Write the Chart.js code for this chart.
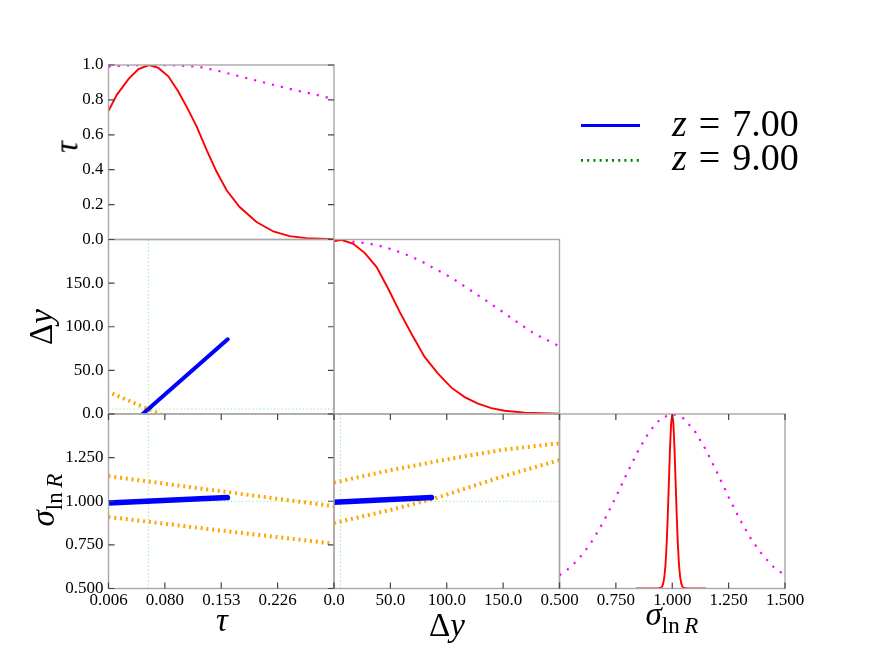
<!DOCTYPE html>
<html><head><meta charset="utf-8">
<script src="https://cdn.jsdelivr.net/npm/chart.js@4.4.1/dist/chart.umd.min.js"></script>
<style>
html,body{margin:0;padding:0;background:#fff;}
#wrap{position:relative;width:872px;height:654px;overflow:hidden;font-family:'Liberation Serif',serif;}
canvas{position:absolute;left:0;top:0;}
.lbl{position:absolute;white-space:nowrap;color:#000;line-height:1;font-size:33px;}
.rot{transform:translate(-50%,-50%) rotate(-90deg);}
.hc{transform:translateX(-50%);}
.leg{position:absolute;white-space:nowrap;color:#000;line-height:1;font-size:38px;}
</style></head><body><div id="wrap">
<canvas id="cA" width="872" height="654"></canvas>
<canvas id="cB" width="872" height="654"></canvas>
<canvas id="cC" width="872" height="654"></canvas>
<canvas id="cD" width="872" height="654"></canvas>
<canvas id="cE" width="872" height="654"></canvas>
<canvas id="cF" width="872" height="654"></canvas>

<div class="lbl rot" style="left:67px;top:147px;"><i>τ</i></div>
<div class="lbl rot" style="left:41px;top:327px;">Δ<i>y</i></div>
<div class="lbl rot" style="left:43px;top:500px;"><i>σ</i><span style="font-size:23px;position:relative;top:8px;">ln&#8201;<i>R</i></span></div>
<div class="lbl hc" style="left:222px;top:604px;"><i>τ</i></div>
<div class="lbl hc" style="left:447px;top:609px;">Δ<i>y</i></div>
<div class="lbl hc" style="left:672px;top:598px;"><i>σ</i><span style="font-size:23px;position:relative;top:8px;">ln&#8201;<i>R</i></span></div>

<svg style="position:absolute;left:0;top:0;" width="872" height="654">
  <line x1="581" y1="125.5" x2="640" y2="125.5" stroke="#0000ff" stroke-width="3.2"/>
  <line x1="581" y1="160.3" x2="640" y2="160.3" stroke="#008000" stroke-width="2.7" stroke-dasharray="2 4.2"/>
</svg>
<div class="leg" style="left:672px;top:104px;"><i>z</i><span style="margin:0 12px;">=</span>7.00</div>
<div class="leg" style="left:672px;top:138px;"><i>z</i><span style="margin:0 12px;">=</span>9.00</div>
</div>
<script>
// ---------- tick values and labels ----------
const tauTicks = [0.006, 0.0795, 0.153, 0.2265, 0.300];
const tauTickLabels = ['0.006', '0.080', '0.153', '0.226', ''];
const dyTicks = [0, 50, 100, 150, 200];
const dyTickLabels = ['0.0', '50.0', '100.0', '150.0', ''];
const sigTicks = [0.5, 0.75, 1.0, 1.25, 1.5];
const sigXTickLabels = ['0.500', '0.750', '1.000', '1.250', '1.500'];
const sigYTickLabels = ['0.500', '0.750', '1.000', '1.250', ''];
const pdfTicks = [0, 0.2, 0.4, 0.6, 0.8, 1.0];
const pdfTickLabels = ['0.0', '0.2', '0.4', '0.6', '0.8', '1.0'];

// ---------- 1D marginals ----------
const tauRedX = [0.006, 0.0168, 0.032, 0.045, 0.0589, 0.071, 0.084, 0.097, 0.110, 0.121, 0.134, 0.147, 0.160, 0.177, 0.199, 0.221, 0.242, 0.264, 0.300];
const tauRedY = [0.737, 0.829, 0.919, 0.977, 1.000, 0.983, 0.935, 0.848, 0.743, 0.647, 0.512, 0.388, 0.282, 0.186, 0.100, 0.046, 0.019, 0.008, 0.002];
const tauMagX = [0.006, 0.030, 0.060, 0.090, 0.125, 0.151, 0.177, 0.212, 0.247, 0.281, 0.300];
const tauMagY = [0.991, 0.997, 1.000, 0.999, 0.989, 0.964, 0.935, 0.896, 0.858, 0.825, 0.804];

const dyRedX = [0, 6.8, 17.1, 27.4, 37.8, 48.1, 58.4, 68.7, 80.5, 92.3, 104.1, 115.9, 127.7, 139.5, 151.3, 169, 200];
const dyRedY = [0.989, 0.998, 0.975, 0.922, 0.842, 0.718, 0.584, 0.460, 0.326, 0.231, 0.151, 0.097, 0.059, 0.034, 0.019, 0.008, 0.002];
const dyMagX = [0, 6.2, 14.2, 20.1, 28.9, 39.2, 49.6, 59.9, 69.3, 79.1, 87.9, 98.2, 107.1, 115.9, 124.8, 133.6, 142.5, 151.3, 160.2, 169, 177.9, 188.2, 198.5, 200];
const dyMagY = [0.995, 0.994, 0.990, 0.985, 0.979, 0.966, 0.947, 0.924, 0.899, 0.870, 0.838, 0.803, 0.769, 0.731, 0.693, 0.655, 0.616, 0.578, 0.536, 0.498, 0.460, 0.426, 0.393, 0.390];

const sigRedX = [0.84, 0.90, 0.94, 0.95, 0.955, 0.96, 0.965, 0.97, 0.975, 0.98, 0.985, 0.99, 0.995, 1.00, 1.005, 1.01, 1.015, 1.02, 1.025, 1.03, 1.035, 1.04, 1.045, 1.05, 1.06, 1.10, 1.15];
const sigRedY = [0, 0, 0.002, 0.004, 0.011, 0.029, 0.066, 0.135, 0.249, 0.411, 0.607, 0.801, 0.946, 1.000, 0.946, 0.801, 0.607, 0.411, 0.249, 0.135, 0.066, 0.029, 0.011, 0.004, 0.002, 0, 0];
const sigMagX = [0.50, 0.55, 0.60, 0.65, 0.70, 0.75, 0.80, 0.85, 0.90, 0.95, 1.00, 1.05, 1.10, 1.15, 1.20, 1.25, 1.30, 1.35, 1.40, 1.45, 1.50];
const sigMagY = [0.076, 0.123, 0.192, 0.282, 0.395, 0.524, 0.662, 0.793, 0.902, 0.975, 1.000, 0.975, 0.902, 0.793, 0.662, 0.524, 0.395, 0.282, 0.192, 0.123, 0.076];

// ---------- 2D panels ----------
const bestTau = 0.058;
const bestDy = 5.7;
const bestSig = 1.0;
const tdBlueTau = [0.0467, 0.1614];
const tdBlueDy = [-3, 85.6];
const tdOrangeTau = [0.004, 0.075];
const tdOrangeDy = [25.95, -0.75];
const tsBlueTau = [0.006, 0.161];
const tsBlueSig = [0.990, 1.021];
const tsUpTau = [0.006, 0.153, 0.300];
const tsUpSig = [1.144, 1.057, 0.972];
const tsLoTau = [0.006, 0.153, 0.300];
const tsLoSig = [0.910, 0.832, 0.757];
const dsBlueDy = [0, 86.5];
const dsBlueSig = [0.994, 1.022];
const dsUpDy = [0, 50, 100, 150, 200];
const dsUpSig = [1.107, 1.178, 1.240, 1.295, 1.332];
const dsLoDy = [0, 50, 86.5, 100, 150, 200];
const dsLoSig = [0.875, 0.950, 1.011, 1.038, 1.143, 1.236];

// ---------- layout ----------
const COL_X = [108.5, 334, 559.5];
const ROW_Y = [65, 239.5, 414];
const PW = 225.5, PH = 174.5;
const YAX_W = 70, XAX_H = 30;
const FONT = "'Liberation Serif', 'Times New Roman', serif";

const RED = '#ff0000', MAG = '#ff00ff', BLUE = '#0000ff', ORA = '#ffa500', LG = '#90ee90';

function ds(xs, ys, color, width, dash, order, extra) {
  return Object.assign({
    data: xs.map((x, i) => ({x: x, y: ys[i]})),
    borderColor: color, backgroundColor: color, borderWidth: width,
    borderDash: dash || [], pointRadius: 0, showLine: true, fill: false,
    tension: 0, order: order, clip: 0
  }, extra || {});
}

const framePlugin = {
  id: 'frame',
  afterDraw(chart, args, opts) {
    const ctx = chart.ctx, a = chart.chartArea, sx = chart.scales.x, sy = chart.scales.y;
    ctx.save();
    ctx.strokeStyle = '#a8a8a8';
    ctx.lineWidth = 1.4;
    ctx.strokeRect(a.left, a.top, a.right - a.left, a.bottom - a.top);
    ctx.strokeStyle = '#444';
    ctx.lineWidth = 1.2;
    ctx.beginPath();
    const L = 6;
    if (opts.xMarks) sx.ticks.forEach(t => {
      const p = sx.getPixelForValue(t.value);
      ctx.moveTo(p, a.bottom); ctx.lineTo(p, a.bottom - L);
      ctx.moveTo(p, a.top); ctx.lineTo(p, a.top + L);
    });
    if (opts.yMarks) sy.ticks.forEach(t => {
      const p = sy.getPixelForValue(t.value);
      ctx.moveTo(a.left, p); ctx.lineTo(a.left + L, p);
      ctx.moveTo(a.right, p); ctx.lineTo(a.right - L, p);
    });
    ctx.stroke();
    ctx.restore();
  }
};

function axis(which, min, max, ticks, labels) {
  return {
    type: 'linear', position: which === 'x' ? 'bottom' : 'left', min: min, max: max,
    afterFit: s => { if (which === 'x') s.height = XAX_H; else s.width = YAX_W; },
    afterBuildTicks: s => { s.ticks = ticks.map(v => ({value: v})); },
    grid: {display: false, drawTicks: false},
    border: {display: false},
    ticks: {
      display: !!labels, autoSkip: false, maxRotation: 0, minRotation: 0,
      padding: which === 'x' ? 4 : 5, color: '#000',
      font: {family: FONT, size: 17, lineHeight: 1},
      callback: (v, i) => labels ? labels[i] : ''
    }
  };
}

function panel(id, col, row, xAx, yAx, datasets, marks) {
  const L = COL_X[col], T = ROW_Y[row];
  new Chart(document.getElementById(id), {
    type: 'scatter',
    data: {datasets: datasets},
    plugins: [framePlugin],
    options: {
      responsive: false, animation: false, events: [],
      layout: {autoPadding: false, padding: {left: L - YAX_W, top: T, right: 872 - L - PW, bottom: 654 - T - PH - XAX_H}},
      plugins: {legend: {display: false}, tooltip: {enabled: false}, frame: marks},
      scales: {x: xAx, y: yAx}
    }
  });
}

const gDot = [1.3, 2.3];
const magDot = [2.2, 7];
const oraDot = [2, 3.8];

// Row 0: tau marginal
panel('cA', 0, 0,
  axis('x', 0.006, 0.300, tauTicks, null),
  axis('y', 0, 1, pdfTicks, pdfTickLabels),
  [ds(tauRedX, tauRedY, RED, 1.9, null, 1), ds(tauMagX, tauMagY, MAG, 2.2, magDot, 2)],
  {xMarks: false, yMarks: true});

// Row 1 col 0: Delta y vs tau
panel('cB', 0, 1,
  axis('x', 0.006, 0.300, tauTicks, null),
  axis('y', 0, 200, dyTicks, dyTickLabels),
  [
    ds([bestTau, bestTau], [0, 200], LG, 1, gDot, 5),
    ds([0.006, 0.300], [bestDy, bestDy], LG, 1, gDot, 5),
    ds(tdOrangeTau, tdOrangeDy, ORA, 4, oraDot, 3),
    ds(tdBlueTau, tdBlueDy, BLUE, 4, null, 1, {borderCapStyle: 'round'})
  ],
  {xMarks: false, yMarks: true});

// Row 1 col 1: Delta y marginal
panel('cC', 1, 1,
  axis('x', 0, 200, dyTicks, null),
  axis('y', 0, 1, pdfTicks, null),
  [ds(dyRedX, dyRedY, RED, 1.9, null, 1), ds(dyMagX, dyMagY, MAG, 2.2, magDot, 2)],
  {xMarks: false, yMarks: false});

// Row 2 col 0: sigma vs tau
panel('cD', 0, 2,
  axis('x', 0.006, 0.300, tauTicks, tauTickLabels),
  axis('y', 0.5, 1.5, sigTicks, sigYTickLabels),
  [
    ds([bestTau, bestTau], [0.5, 1.5], LG, 1, gDot, 5),
    ds([0.006, 0.300], [bestSig, bestSig], LG, 1, gDot, 5),
    ds(tsUpTau, tsUpSig, ORA, 4, oraDot, 3),
    ds(tsLoTau, tsLoSig, ORA, 4, oraDot, 3),
    ds(tsBlueTau, tsBlueSig, BLUE, 5.5, null, 1, {borderCapStyle: 'round'})
  ],
  {xMarks: true, yMarks: true});

// Row 2 col 1: sigma vs Delta y
panel('cE', 1, 2,
  axis('x', 0, 200, dyTicks, dyTickLabels),
  axis('y', 0.5, 1.5, sigTicks, null),
  [
    ds([bestDy, bestDy], [0.5, 1.5], LG, 1, gDot, 5),
    ds([0, 200], [bestSig, bestSig], LG, 1, gDot, 5),
    ds(dsUpDy, dsUpSig, ORA, 4, oraDot, 3),
    ds(dsLoDy, dsLoSig, ORA, 4, oraDot, 3),
    ds(dsBlueDy, dsBlueSig, BLUE, 5.5, null, 1, {borderCapStyle: 'round'})
  ],
  {xMarks: true, yMarks: false});

// Row 2 col 2: sigma marginal
panel('cF', 2, 2,
  axis('x', 0.5, 1.5, sigTicks, sigXTickLabels),
  axis('y', 0, 1, pdfTicks, null),
  [ds(sigRedX, sigRedY, RED, 1.9, null, 1), ds(sigMagX, sigMagY, MAG, 2.2, magDot, 2)],
  {xMarks: true, yMarks: false});
</script>
</body></html>
